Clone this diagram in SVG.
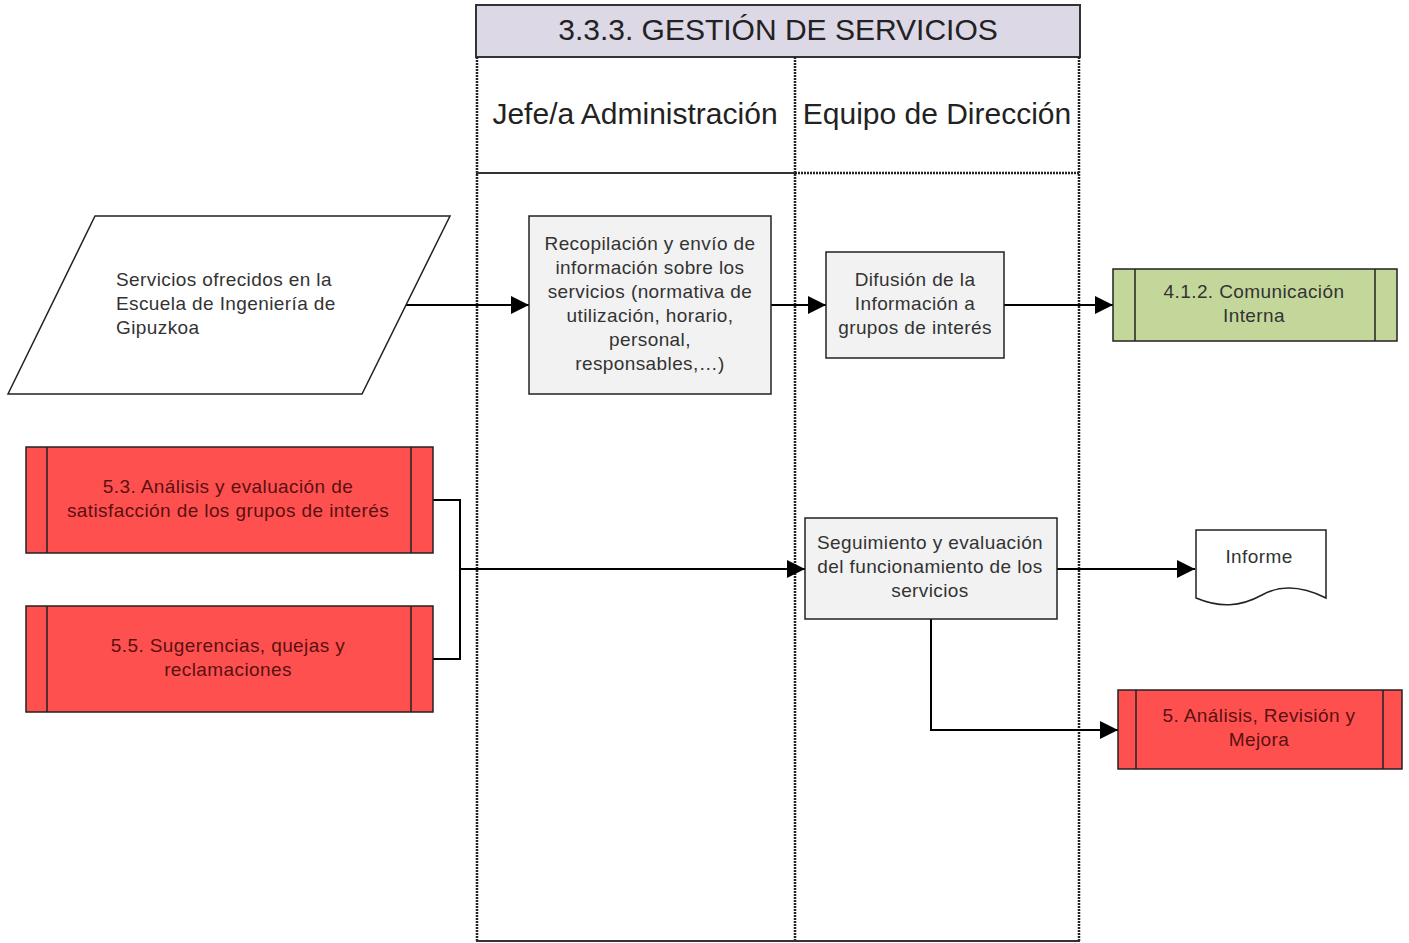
<svg xmlns="http://www.w3.org/2000/svg" width="1409" height="943" viewBox="0 0 1409 943">
<defs>
<marker id="arr" markerUnits="userSpaceOnUse" markerWidth="20" markerHeight="18" refX="18" refY="9" orient="auto">
<path d="M0,0 L18,9 L0,18 Z" fill="#000"/>
</marker>
<style>
text{font-family:"Liberation Sans",Arial,sans-serif;fill:#333;}
.t{font-size:19px;text-anchor:middle;letter-spacing:0.4px;}
.tl{font-size:19px;letter-spacing:0.4px;}
.hdr{font-size:30px;text-anchor:middle;fill:#222;}
.lane{fill:none;stroke:#222;stroke-width:2.5;stroke-dasharray:2 1;}
.proc{fill:#f2f2f2;stroke:#222;stroke-width:1.5;}
.red{fill:#ff5050;stroke:#222;stroke-width:1.5;}
.green{fill:#c4d79b;stroke:#222;stroke-width:1.5;}
.edge{fill:none;stroke:#000;stroke-width:2;}
.rt{fill:#5a1010;}
</style>
</defs>
<g id="pool">
<rect x="476" y="5" width="604" height="52" fill="#dcd8e6" stroke="#333" stroke-width="2"/>
<text class="hdr" x="778" y="40">3.3.3. GESTIÓN DE SERVICIOS</text>
<line class="lane" x1="477" y1="57" x2="477" y2="941"/>
<line class="lane" x1="795" y1="57" x2="795" y2="941"/>
<line class="lane" x1="1079" y1="57" x2="1079" y2="941"/>
<line x1="476" y1="941" x2="1080" y2="941" stroke="#333" stroke-width="2"/>
<line x1="476" y1="173" x2="795" y2="173" stroke="#333" stroke-width="2"/>
<line class="lane" x1="795" y1="173" x2="1080" y2="173"/>
<text class="hdr" x="635" y="124">Jefe/a Administración</text>
<text class="hdr" x="937" y="124">Equipo de Dirección</text>
</g>
<g id="connectors">
<line class="edge" x1="405" y1="305" x2="529" y2="305" marker-end="url(#arr)"/>
<line class="edge" x1="771" y1="305" x2="826" y2="305" marker-end="url(#arr)"/>
<line class="edge" x1="1004" y1="305" x2="1113" y2="305" marker-end="url(#arr)"/>
<polyline class="edge" points="433,500 460,500 460,659 433,659"/>
<line class="edge" x1="460" y1="569" x2="805" y2="569" marker-end="url(#arr)"/>
<line class="edge" x1="1057" y1="569" x2="1195" y2="569" marker-end="url(#arr)"/>
<polyline class="edge" points="931,619 931,730 1118,730" marker-end="url(#arr)"/>
</g>
<g id="n-servicios">
<polygon points="95,216 450,216 362,394 8,394" fill="#fff" stroke="#222" stroke-width="1.5"/>
<text class="tl" x="116" y="286">Servicios ofrecidos en la</text>
<text class="tl" x="116" y="310">Escuela de Ingeniería de</text>
<text class="tl" x="116" y="334">Gipuzkoa</text>
</g>
<g id="n-recopilacion">
<rect class="proc" x="529" y="216" width="242" height="178"/>
<text class="t" x="650" y="250">Recopilación y envío de</text>
<text class="t" x="650" y="274">información sobre los</text>
<text class="t" x="650" y="298">servicios (normativa de</text>
<text class="t" x="650" y="322">utilización, horario,</text>
<text class="t" x="650" y="346">personal,</text>
<text class="t" x="650" y="370">responsables,…)</text>
</g>
<g id="n-difusion">
<rect class="proc" x="826" y="252" width="178" height="106"/>
<text class="t" x="915" y="286">Difusión de la</text>
<text class="t" x="915" y="310">Información a</text>
<text class="t" x="915" y="334">grupos de interés</text>
</g>
<g id="n-comunicacion">
<rect class="green" x="1113" y="269" width="284" height="72"/>
<line x1="1135" y1="269" x2="1135" y2="341" stroke="#222" stroke-width="1.5"/>
<line x1="1375" y1="269" x2="1375" y2="341" stroke="#222" stroke-width="1.5"/>
<text class="t" x="1254" y="298">4.1.2. Comunicación</text>
<text class="t" x="1254" y="322">Interna</text>
</g>
<g id="n-53">
<rect class="red" x="26" y="447" width="407" height="106"/>
<line x1="47" y1="447" x2="47" y2="553" stroke="#222" stroke-width="1.5"/>
<line x1="411" y1="447" x2="411" y2="553" stroke="#222" stroke-width="1.5"/>
<text class="t rt" x="228" y="493">5.3. Análisis y evaluación de</text>
<text class="t rt" x="228" y="517">satisfacción de los grupos de interés</text>
</g>
<g id="n-55">
<rect class="red" x="26" y="606" width="407" height="106"/>
<line x1="47" y1="606" x2="47" y2="712" stroke="#222" stroke-width="1.5"/>
<line x1="411" y1="606" x2="411" y2="712" stroke="#222" stroke-width="1.5"/>
<text class="t rt" x="228" y="652">5.5. Sugerencias, quejas y</text>
<text class="t rt" x="228" y="676">reclamaciones</text>
</g>
<g id="n-seguimiento">
<rect class="proc" x="805" y="518" width="252" height="101"/>
<text class="t" x="930" y="549">Seguimiento y evaluación</text>
<text class="t" x="930" y="573">del funcionamiento de los</text>
<text class="t" x="930" y="597">servicios</text>
</g>
<g id="n-informe">
<path d="M1196,530 L1326,530 L1326,598 C1300,585 1280,585 1262,595 C1240,607 1220,608 1196,598 Z" fill="#fff" stroke="#222" stroke-width="1.5"/>
<text class="t" x="1259" y="563">Informe</text>
</g>
<g id="n-5">
<rect class="red" x="1118" y="690" width="284" height="79"/>
<line x1="1136" y1="690" x2="1136" y2="769" stroke="#222" stroke-width="1.5"/>
<line x1="1383" y1="690" x2="1383" y2="769" stroke="#222" stroke-width="1.5"/>
<text class="t rt" x="1259" y="722">5. Análisis, Revisión y</text>
<text class="t rt" x="1259" y="746">Mejora</text>
</g>
</svg>
